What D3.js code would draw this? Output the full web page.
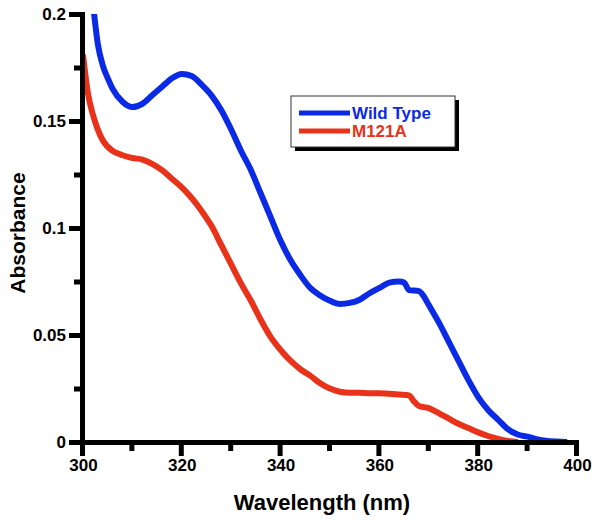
<!DOCTYPE html>
<html><head><meta charset="utf-8">
<script src="https://cdn.jsdelivr.net/npm/d3@7"></script>
<style>body{margin:0;background:#fff;}svg{display:block;}</style>
</head><body>
<svg id="c" width="600" height="524"></svg>
<script>
const wlWild = [301,302,303,304,305,306,308,310,312,314,316,318,320,322,324,326,328,330,332,334,336,338,340,342,344,346,348,350,352,354,356,358,360,362,364,365,366,368,369,370,372,374,376,378,380,382,384,386,388,390,392,394,396,398];
const absWild = [0.225,0.205,0.186,0.176,0.170,0.165,0.159,0.1565,0.158,0.162,0.166,0.170,0.172,0.171,0.167,0.162,0.155,0.146,0.136,0.127,0.116,0.105,0.094,0.085,0.078,0.072,0.0685,0.066,0.0645,0.065,0.0665,0.0695,0.072,0.0745,0.075,0.0745,0.071,0.0705,0.068,0.064,0.056,0.047,0.038,0.029,0.021,0.015,0.0105,0.006,0.0035,0.0025,0.0012,0.0005,0.0002,0];
const wlMut = [300,301,302,303,304,306,308,310,312,314,316,318,320,322,324,326,328,330,332,334,336,338,340,342,344,346,348,350,352,354,356,358,360,362,364,366,367,368,370,372,374,376,378,380,382,384,386,388];
const absMut = [0.181,0.163,0.153,0.146,0.141,0.136,0.134,0.1327,0.132,0.130,0.127,0.123,0.119,0.114,0.108,0.101,0.092,0.083,0.074,0.066,0.057,0.049,0.043,0.038,0.034,0.031,0.0275,0.025,0.0235,0.023,0.023,0.0228,0.0228,0.0226,0.0222,0.0218,0.019,0.0168,0.0158,0.0135,0.011,0.0085,0.0065,0.0045,0.0028,0.0015,0.0005,0];
const seriesNames = ["Wild Type","M121A"];
const seriesColors = ["#0a2ae6","#e8321a"];
const xTicks = [300,320,340,360,380,400];
const xMinor = [310,330,350,370,390];
const yTicks = [0,0.05,0.1,0.15,0.2];
const yTickLabels = ["0","0.05","0.1","0.15","0.2"];
const yMinor = [0.025,0.075,0.125,0.175];

const svg = d3.select("#c");
const x = d3.scaleLinear().domain([300,400]).range([83,577]);
const y = d3.scaleLinear().domain([0,0.2]).range([442,14]);
const font = "'Liberation Sans', Arial, sans-serif";

svg.append("defs").append("clipPath").attr("id","clip")
  .append("rect").attr("x",83).attr("y",14).attr("width",494).attr("height",428);

const line = d3.line().x(d=>x(d[0])).y(d=>y(d[1])).curve(d3.curveMonotoneX);
const g = svg.append("g").attr("clip-path","url(#clip)");
g.append("path").datum(wlWild.map((w,i)=>[w,absWild[i]])).attr("d",line)
  .attr("fill","none").attr("stroke",seriesColors[0]).attr("stroke-width",6).attr("stroke-linejoin","round");
g.append("path").datum(wlMut.map((w,i)=>[w,absMut[i]])).attr("d",line)
  .attr("fill","none").attr("stroke",seriesColors[1]).attr("stroke-width",6).attr("stroke-linejoin","round");

const xAxis = svg.append("g").attr("transform","translate(0,442)")
  .call(d3.axisBottom(x).tickValues(xTicks).tickSize(13).tickPadding(4).tickFormat(d3.format("d")));
xAxis.select(".domain").remove();
xAxis.selectAll(".tick line").remove();
xAxis.selectAll(".tick text").attr("font-family",font).attr("font-weight","bold").attr("font-size",17).attr("fill","#000");

const yAxis = svg.append("g").attr("transform","translate(83,0)")
  .call(d3.axisLeft(y).tickValues(yTicks).tickSize(13).tickPadding(4).tickFormat((d,i)=>yTickLabels[i]));
yAxis.select(".domain").remove();
yAxis.selectAll(".tick line").remove();
yAxis.selectAll(".tick text").attr("font-family",font).attr("font-weight","bold").attr("font-size",17).attr("fill","#000");

const ax = svg.append("g").attr("fill","#000");
ax.append("rect").attr("x",x(300)-3).attr("y",y(0.2)-2).attr("width",5).attr("height",y(0)-y(0.2)+4);
ax.append("rect").attr("x",x(300)-3).attr("y",y(0)-2).attr("width",x(400)-x(300)+5).attr("height",5);
ax.selectAll(".xt").data(xTicks).join("rect").attr("x",d=>x(d)-3).attr("y",y(0)).attr("width",5).attr("height",14);
ax.selectAll(".xm").data(xMinor).join("rect").attr("x",d=>x(d)-3).attr("y",y(0)).attr("width",5).attr("height",9);
ax.selectAll(".yt").data(yTicks).join("rect").attr("x",x(300)-14).attr("y",d=>y(d)-2).attr("width",14).attr("height",5);
ax.selectAll(".ym").data(yMinor).join("rect").attr("x",x(300)-9).attr("y",d=>y(d)-2).attr("width",9).attr("height",5);

svg.append("text").attr("x",322).attr("y",510).attr("text-anchor","middle")
  .attr("font-family",font).attr("font-weight","bold").attr("font-size",22).text("Wavelength (nm)");
svg.append("text").attr("transform","translate(25,233) rotate(-90)").attr("text-anchor","middle")
  .attr("font-family",font).attr("font-weight","bold").attr("font-size",21).text("Absorbance");

const lg = svg.append("g");
lg.append("rect").attr("x",295).attr("y",100).attr("width",164).attr("height",51).attr("fill","#000");
lg.append("rect").attr("x",291).attr("y",96).attr("width",164).attr("height",51).attr("fill","#fff").attr("stroke","#333").attr("stroke-width",1);
seriesNames.forEach((n,i)=>{
  const yy = 113 + i*18;
  lg.append("line").attr("x1",299).attr("x2",350).attr("y1",yy).attr("y2",yy)
    .attr("stroke",seriesColors[i]).attr("stroke-width",5);
  lg.append("text").attr("x",352).attr("y",yy+6).attr("font-family",font).attr("font-weight","bold")
    .attr("font-size",17).attr("fill",seriesColors[i]).text(n);
});
</script>
</body></html>
